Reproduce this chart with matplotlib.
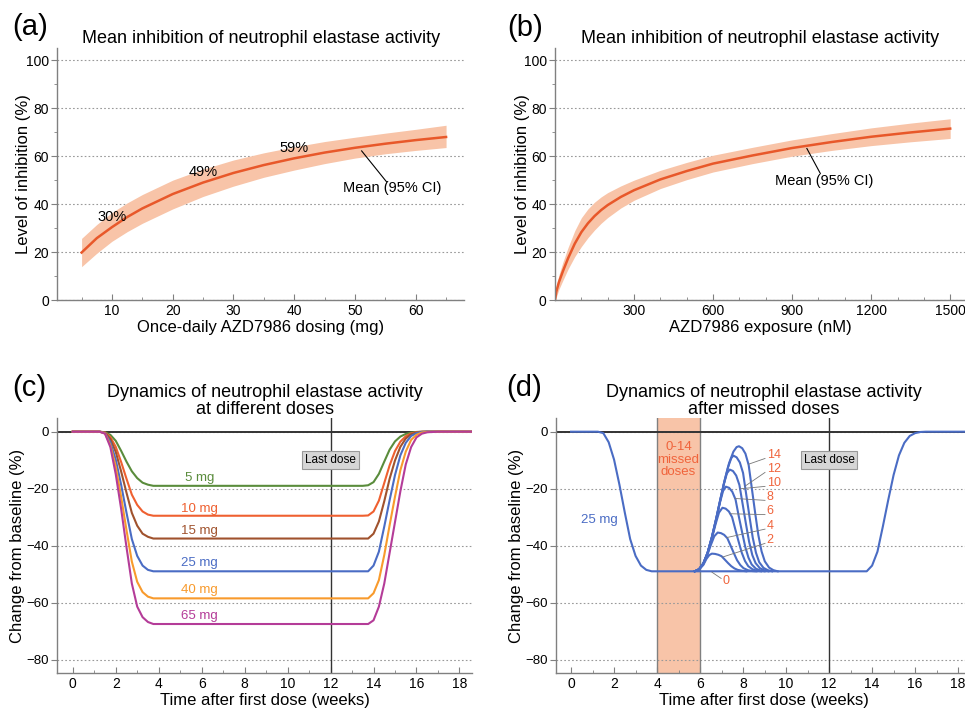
import numpy as np
import matplotlib.pyplot as plt
from matplotlib.ticker import MultipleLocator

plt.rcParams['font.family'] = ['Liberation Sans', 'DejaVu Sans']
plt.rcParams['axes.unicode_minus'] = True

# ---- (a) inhibition vs dose ----
dose_mg = [5, 7.5, 10, 12.5, 15, 20, 25, 30, 35, 40, 45, 50, 55, 60, 65]
dose_mean = [19.8, 25.8, 30.4, 34.6, 38.2, 44.2, 49.0, 53.0, 56.3, 59.1, 61.5, 63.5, 65.2, 66.7, 68.0]
dose_lo = [13.9, 19.5, 24.5, 28.5, 32.0, 38.0, 43.2, 47.5, 51.2, 54.2, 56.9, 59.2, 61.0, 62.4, 63.6]
dose_hi = [25.7, 31.5, 36.5, 40.5, 44.0, 50.0, 54.6, 58.4, 61.4, 63.9, 66.1, 67.9, 69.6, 71.2, 72.9]
dose_marks = [10, 25, 40]
dose_mark_text = ['30%', '49%', '59%']

# ---- (b) inhibition vs exposure ----
expo_nm = [0, 5, 15, 30, 50, 75, 100, 125, 150, 175, 200, 250, 300, 400, 500, 600,
           750, 900, 1050, 1200, 1350, 1500]
expo_mean = [0, 3.5, 7.5, 12.0, 17.5, 23.5, 28.3, 32.0, 35.0, 37.5, 39.6, 43.0, 45.8, 50.3,
             53.8, 56.9, 60.3, 63.4, 65.9, 68.1, 69.9, 71.5]
expo_lo = [0, 1.2, 4.5, 8.2, 13.0, 18.1, 22.3, 26.0, 29.2, 32.0, 34.4, 38.4, 41.6, 46.5,
           50.2, 53.4, 56.9, 60.0, 62.4, 64.4, 66.0, 67.4]
expo_hi = [1.5, 5.8, 10.5, 15.8, 22.0, 28.9, 34.3, 38.0, 40.8, 43.0, 44.8, 47.6, 50.0, 54.1,
           57.4, 60.4, 63.7, 66.8, 69.4, 71.8, 73.8, 75.6]

# ---- (c) time course per dose ----
weeks = [0, 1.25, 1.5, 1.75, 2.0, 2.25, 2.5, 2.75, 3.0, 3.25, 3.5, 3.75, 4.0,
         13.5, 13.75, 14.0, 14.25, 14.5, 14.75, 15.0, 15.25, 15.5, 15.75, 16.0, 16.25, 16.5, 17.0, 18.6]
doses = ['5 mg', '10 mg', '15 mg', '25 mg', '40 mg', '65 mg']
chg_5 = [0, 0, -0.2, -1.1, -3.2, -6.7, -10.5, -13.9, -16.3, -17.9, -18.6, -19.0, -19.0,
         -19.0, -18.8, -17.7, -14.8, -10.5, -6.3, -3.4, -1.7, -0.8, -0.3, -0.1, 0, 0, 0, 0]
chg_10 = [0, 0, -0.3, -1.9, -5.3, -10.6, -16.5, -22.1, -25.7, -28.0, -29.1, -29.5, -29.5,
          -29.5, -29.4, -28.0, -24.2, -18.0, -11.8, -6.8, -3.5, -1.6, -0.6, -0.2, 0, 0, 0, 0]
chg_15 = [0, 0, -0.4, -2.6, -7.1, -13.9, -21.4, -28.5, -33.0, -35.8, -36.9, -37.5, -37.5,
          -37.5, -37.5, -35.8, -31.5, -24.4, -16.5, -10.1, -5.3, -2.4, -0.9, -0.3, -0.1, 0, 0, 0]
chg_25 = [0, 0, -0.5, -3.7, -9.8, -18.6, -28.4, -37.7, -43.6, -47.0, -48.5, -49.0, -49.0,
          -49.0, -49.0, -47.0, -42.1, -33.3, -24.0, -15.2, -8.3, -3.9, -1.5, -0.5, -0.1, 0, 0, 0]
chg_40 = [0, 0, -0.6, -4.7, -12.3, -22.8, -34.5, -45.6, -52.7, -56.3, -57.9, -58.5, -58.5,
          -58.5, -58.5, -56.7, -52.1, -43.3, -32.8, -22.8, -13.5, -7.0, -2.9, -1.1, -0.3, -0.1, 0, 0]
chg_65 = [0, 0, -0.7, -5.4, -14.9, -27.0, -40.5, -53.3, -61.4, -65.1, -66.8, -67.5, -67.5,
          -67.5, -67.5, -66.2, -61.4, -53.3, -42.5, -31.7, -20.9, -11.5, -5.4, -2.0, -0.7, -0.2, 0, 0]
dose_label_y = [-16.4, -27.2, -34.9, -46.0, -55.6, -64.8]
dose_colors = ['#5a8c3c', '#ef6030', '#a0522d', '#4a6cc4', '#f89a2c', '#b43c98']

# ---- (d) missed doses on 25 mg ----
missed = [2, 4, 6, 8, 10, 12, 14]
bump_weeks = [
    [5.75, 5.95, 6.15, 6.3, 6.43, 6.55, 6.7, 6.85, 7.0, 7.15, 7.3, 7.45, 7.6, 7.75, 7.95, 8.15],
    [5.75, 5.95, 6.15, 6.35, 6.5, 6.66, 6.82, 6.97, 7.12, 7.27, 7.42, 7.57, 7.72, 7.87, 8.02, 8.22, 8.42, 8.62],
    [5.75, 5.95, 6.15, 6.35, 6.55, 6.72, 6.88, 7.04, 7.19, 7.34, 7.49, 7.64, 7.79, 7.94, 8.09, 8.24, 8.44, 8.64, 8.84],
    [5.75, 5.95, 6.15, 6.35, 6.55, 6.75, 6.92, 7.07, 7.2, 7.35, 7.5, 7.65, 7.8, 7.95, 8.1, 8.25, 8.4, 8.6, 8.8, 9.0],
    [5.75, 5.95, 6.15, 6.35, 6.55, 6.75, 6.95, 7.1, 7.25, 7.38, 7.53, 7.68, 7.83, 7.98, 8.13, 8.28, 8.43, 8.58, 8.78, 8.98, 9.18],
    [5.75, 5.95, 6.15, 6.35, 6.55, 6.75, 6.95, 7.15, 7.3, 7.45, 7.55, 7.7, 7.85, 8.0, 8.15, 8.3, 8.45, 8.6, 8.75, 8.95, 9.15, 9.35],
    [5.75, 5.95, 6.15, 6.35, 6.55, 6.75, 6.95, 7.15, 7.35, 7.55, 7.7, 7.81, 7.96, 8.11, 8.26, 8.41, 8.56, 8.71, 8.86, 9.01, 9.21, 9.41, 9.61],
]
bump_change = [
    [-49, -48.4, -46.8, -44.6, -43.3, -42.8, -42.9, -43.2, -43.7, -44.9, -46.1, -47.2, -48.0, -48.5, -48.8, -49],
    [-49, -48.3, -46.4, -43.0, -39.8, -36.7, -35.4, -35.6, -36.2, -37.4, -40.0, -42.6, -45.1, -46.8, -47.9, -48.6, -48.9, -49],
    [-49, -48.3, -46.3, -42.6, -37.4, -32.5, -28.4, -26.7, -27.0, -28.0, -30.0, -34.3, -38.5, -42.5, -45.4, -47.2, -48.3, -48.8, -49],
    [-49, -48.3, -46.3, -42.5, -37.1, -30.9, -25.0, -20.8, -19.3, -19.7, -21.1, -23.8, -29.7, -35.1, -40.4, -44.2, -46.6, -48.1, -48.7, -49],
    [-49, -48.3, -46.3, -42.5, -37.0, -30.6, -23.8, -18.5, -14.6, -13.3, -13.8, -15.4, -18.7, -25.4, -32.2, -38.6, -43.3, -46.1, -47.9, -48.6, -49],
    [-49, -48.3, -46.3, -42.5, -37.0, -30.5, -23.5, -17.0, -12.5, -9.3, -8.4, -9.0, -10.8, -14.5, -22.2, -29.9, -37.2, -42.5, -45.8, -47.8, -48.6, -49],
    [-49, -48.3, -46.3, -42.5, -37.0, -30.5, -23.5, -16.8, -11.0, -7.0, -5.4, -5.1, -5.8, -7.7, -11.7, -20.0, -28.4, -36.3, -42.0, -45.5, -47.7, -48.6, -49],
]
missed_label_y = [-38.0, -33.0, -27.9, -22.9, -18.0, -13.1, -8.2]
leader_week = [7.04, 7.24, 7.40, 7.63, 7.86, 8.09, 8.25]

orange = '#e8582a'
band = '#f8c4a8'
label_red = '#f0643c'
spine_gray = '#808080'
W, H = 965, 708


def place(l, r, t, b):
    return [l / W, 1 - b / H, (r - l) / W, (b - t) / H]


def style(ax, ysize=10):
    for s in ['top', 'right']:
        ax.spines[s].set_visible(False)
    for s in ['left', 'bottom']:
        ax.spines[s].set_color(spine_gray)
        ax.spines[s].set_linewidth(1.0)
    ax.tick_params(axis='x', which='both', direction='in', colors=spine_gray,
                   labelcolor='black', labelsize=10, pad=3)
    ax.tick_params(axis='y', which='both', direction='out', colors=spine_gray,
                   labelcolor='black', labelsize=ysize, pad=2)
    ax.tick_params(which='major', length=4)
    ax.tick_params(which='minor', length=2.5)
    ax.yaxis.grid(True, linestyle=(0, (1.5, 2.0)), color='#999999', linewidth=0.8)
    ax.set_axisbelow(True)


def ylab(ax, text, right_px, left_px, width_px):
    ax.set_ylabel(text, fontsize=12)
    ax.yaxis.set_label_coords((right_px - left_px) / width_px, 0.5)


fig = plt.figure(figsize=(W / 100, H / 100), dpi=100)

# (a)
ax = fig.add_axes(place(57.3, 464.3, 48.3, 300))
style(ax)
ax.fill_between(dose_mg, dose_lo, dose_hi, color=band, lw=0)
ax.plot(dose_mg, dose_mean, color=orange, lw=1.8)
ax.set_xlim(1, 68)
ax.set_ylim(0, 105)
ax.xaxis.set_major_locator(MultipleLocator(10))
ax.xaxis.set_minor_locator(MultipleLocator(5))
ax.yaxis.set_major_locator(MultipleLocator(20))
ax.yaxis.set_minor_locator(MultipleLocator(10))
for xm, txt in zip(dose_marks, dose_mark_text):
    ym = np.interp(xm, dose_mg, dose_mean)
    ax.text(xm, ym + 4.3, txt, ha='center', va='center', fontsize=10.5)
ax.plot([51.1, 55.2], [62.2, 49.3], color='black', lw=0.8)
ax.text(56.2, 46.8, 'Mean (95% CI)', ha='center', va='center', fontsize=10.5)
ax.set_title('Mean inhibition of neutrophil elastase activity', fontsize=13, pad=4)
ax.set_xlabel('Once-daily AZD7986 dosing (mg)', fontsize=12, labelpad=1)
ylab(ax, 'Level of inhibition (%)', 31.5, 57.3, 407)
fig.text(12 / W, 1 - 27 / H, '(a)', fontsize=21, va='center', ha='left')

# (b)
ax = fig.add_axes(place(555, 966, 48.3, 300))
style(ax)
ax.fill_between(expo_nm, expo_lo, expo_hi, color=band, lw=0)
ax.plot(expo_nm, expo_mean, color=orange, lw=1.8)
ax.set_xlim(0, 1560)
ax.set_ylim(0, 105)
ax.set_xticks([300, 600, 900, 1200, 1500])
ax.xaxis.set_minor_locator(MultipleLocator(100))
ax.yaxis.set_major_locator(MultipleLocator(20))
ax.yaxis.set_minor_locator(MultipleLocator(10))
ax.plot([956, 1007], [63.2, 52.8], color='black', lw=0.8)
ax.text(1023, 49.6, 'Mean (95% CI)', ha='center', va='center', fontsize=10.5)
ax.set_title('Mean inhibition of neutrophil elastase activity', fontsize=13, pad=4)
ax.set_xlabel('AZD7986 exposure (nM)', fontsize=12, labelpad=1)
ylab(ax, 'Level of inhibition (%)', 530, 555, 411)
fig.text(507 / W, 1 - 28 / H, '(b)', fontsize=21, va='center', ha='left')

box = dict(boxstyle='square,pad=0.25', fc='#d6d6d6', ec='#999999', lw=0.8)

# (c)
ax = fig.add_axes(place(57.3, 471.7, 418.3, 673.3))
style(ax, ysize=9.5)
ax.set_xlim(-0.72, 18.57)
ax.set_ylim(-84.8, 4.7)
ax.xaxis.set_major_locator(MultipleLocator(2))
ax.xaxis.set_minor_locator(MultipleLocator(1))
ax.set_yticks([-80, -60, -40, -20, 0])
ax.axhline(0, color='#333333', lw=1.4, zorder=1.5)
ax.axvline(12, color='#333333', lw=1.0, zorder=1.5)
for vals, name, ly, col in zip([chg_5, chg_10, chg_15, chg_25, chg_40, chg_65],
                               doses, dose_label_y, dose_colors):
    ax.plot(weeks, vals, color=col, lw=1.5, zorder=3)
    ax.text(5.9, ly, name, color=col, ha='center', va='center', fontsize=9.5, zorder=4)
ax.text(12, -10, 'Last dose', ha='center', va='center', fontsize=8.5, bbox=box, zorder=5)
ax.set_title('Dynamics of neutrophil elastase activity\nat different doses',
             fontsize=13, pad=2, linespacing=1.0)
ax.set_xlabel('Time after first dose (weeks)', fontsize=12, labelpad=1)
ylab(ax, 'Change from baseline (%)', 25.5, 57.3, 414.4)
fig.text(12 / W, 1 - 388 / H, '(c)', fontsize=21, va='center', ha='left')

# (d)
ax = fig.add_axes(place(556, 971, 418.3, 673.3))
style(ax, ysize=9.5)
ax.set_xlim(-0.7, 18.6)
ax.set_ylim(-84.8, 4.7)
ax.xaxis.set_major_locator(MultipleLocator(2))
ax.xaxis.set_minor_locator(MultipleLocator(1))
ax.set_yticks([-80, -60, -40, -20, 0])
ax.axvspan(4, 6, color=band, lw=0, zorder=0.5)
ax.axvline(4, color=spine_gray, lw=1.0, zorder=1.5)
ax.axvline(6, color=spine_gray, lw=1.0, zorder=1.5)
ax.axhline(0, color='#333333', lw=1.4, zorder=1.5)
ax.axvline(12, color='#333333', lw=1.0, zorder=1.5)
blue = dose_colors[3]
ax.plot(weeks, chg_25, color=blue, lw=1.5, zorder=3)
for n, bw, bc, ly, lw_ in zip(missed, bump_weeks, bump_change, missed_label_y, leader_week):
    ax.plot(bw, bc, color=blue, lw=1.5, zorder=3)
    ax.plot([9.02, lw_], [ly - 1.2, np.interp(lw_, bw, bc)], color='#777777', lw=0.6, zorder=3.5)
    ax.text(9.1, ly, str(n), color=label_red, ha='left', va='center', fontsize=9, zorder=4)
ax.plot([6.55, 6.98], [-49.3, -51.5], color='#777777', lw=0.6, zorder=3.5)
ax.text(7.22, -52.3, '0', color=label_red, ha='center', va='center', fontsize=9)
ax.text(5.0, -9.8, '0-14\nmissed\ndoses', color=label_red, ha='center', va='center',
        fontsize=9.5, linespacing=1.05)
ax.text(1.3, -31, '25 mg', color=blue, ha='center', va='center', fontsize=9.5)
ax.text(12, -10, 'Last dose', ha='center', va='center', fontsize=8.5, bbox=box, zorder=5)
ax.set_title('Dynamics of neutrophil elastase activity\nafter missed doses',
             fontsize=13, pad=2, linespacing=1.0)
ax.set_xlabel('Time after first dose (weeks)', fontsize=12, labelpad=1)
ylab(ax, 'Change from baseline (%)', 523.5, 556, 415)
fig.text(506 / W, 1 - 388 / H, '(d)', fontsize=21, va='center', ha='left')

fig.savefig('out.png', dpi=100)
